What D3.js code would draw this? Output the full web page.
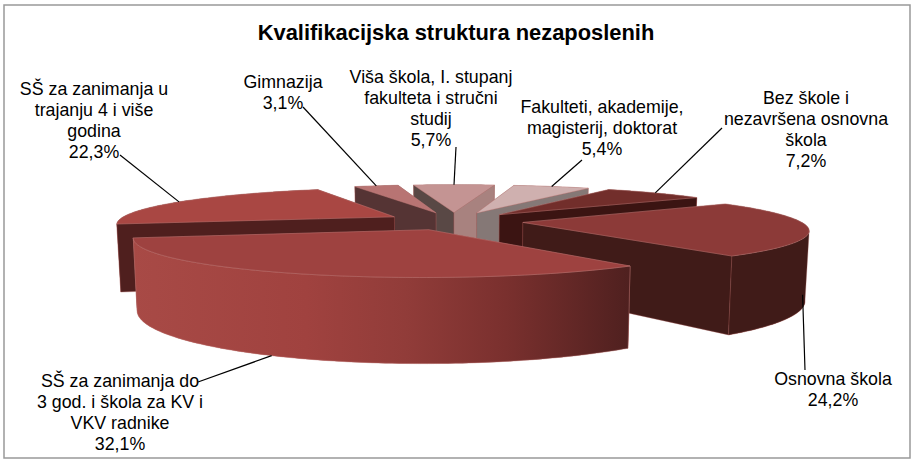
<!DOCTYPE html>
<html>
<head>
<meta charset="utf-8">
<script src="https://d3js.org/d3.v7.min.js"></script>
<style>
	html, body { margin: 0; padding: 0; background: #fff; }
	text { font-family: "Liberation Sans", Arial, sans-serif; fill: #000; }
</style>
</head>
<body>
<div class="container"></div>
<script>
// data, clockwise from the slice that starts at the upper right
var categories = [
	["Bez škole i", "nezavršena osnovna", "škola"],
	["Osnovna škola"],
	["SŠ za zanimanja do", "3 god. i škola za KV i", "VKV radnike"],
	["SŠ za zanimanja u", "trajanju 4 i više", "godina"],
	["Gimnazija"],
	["Viša škola, I. stupanj", "fakulteta i stručni", "studij"],
	["Fakulteti, akademije,", "magisterij, doktorat"]
];
var values = [7.2, 24.2, 32.1, 22.3, 3.1, 5.7, 5.4];
var title = "Kvalifikacijska struktura nezaposlenih";

// look of each slice: top, wall at start angle, wall at end angle, outer wall
var topColors = ["#722e2b", "#8c3a38", "#9e4240", "#a94743", "#b87473", "#c49493", "#cfb0af"];
var startWallColors = ["#3b1412", "#401b18", "#7a302e", "#4f1f1e", "#553434", "#594845", "#857876"];
var endWallColors = ["#3b1412", "#401b18", "#7a302e", "#4f1f1e", "#553434", "#a8827f", "#857876"];
var outerColors = ["#3b1412", "#401b18", "url(#frontWall)", "#4f1f1e", "#553434", "#594845", "#857876"];
// back to front
var drawOrder = [5, 4, 6, 0, 3, 1, 2];

// label position (centre x, first line centre y) and where its leader line starts
var labelX = [806, 833, 120, 94, 283, 431, 602];
var labelY = [98, 379, 381, 89, 82, 77, 107];
var leaderX = [722, 805, 198, 120, 303, 456, 582];
var leaderY = [128, 370, 382, 155, 107, 147, 160];
var leaderAngle = [0.5, 0.46, 0.55, 0.5, 0.5, 0.5, 0.5]; // along the slice arc
var lineHeight = 20.8;

var w = 916, h = 462;
var cx = 454, cy = 221;
var rx = 277, ry = 35.6, depth = 67, persp = 0.18, explode = 0.25, taper = 0.012;

function project(u, v, z) {
	var d = 1 - persp * v;
	var lean = 1 - taper * z / depth;
	return [cx + lean * rx * u / d, cy + (ry * v + z) / d];
}

// point on a slice: r is the distance from its apex, a the angle clockwise from the back
function slicePoint(s, a, r, z) {
	var mid = (s.startAngle + s.endAngle) / 2;
	return project(explode * Math.sin(mid) + r * Math.sin(a), -explode * Math.cos(mid) - r * Math.cos(a), z);
}

function arcAngles(a0, a1) {
	var n = Math.max(2, Math.ceil((a1 - a0) / 0.02));
	return d3.range(n + 1).map(function(i) { return a0 + (a1 - a0) * i / n; });
}

var line = d3.line().curve(d3.curveLinear);
var pie = d3.pie().sort(null).startAngle(29.7 * Math.PI / 180).endAngle((29.7 + 360) * Math.PI / 180);
var slices = pie(values);

function makeStage(w, h) {
	var stage = d3.select(".container")
	.insert("svg")
	.attr("width", w)
	.attr("height", h)
	.style("display", "block");
	return stage;
}

function drawWall(stage, s, a, color) {
	stage.insert("path")
	.attr("d", line([slicePoint(s, a, 0, 0), slicePoint(s, a, 1, 0), slicePoint(s, a, 1, depth), slicePoint(s, a, 0, depth)]) + "Z")
	.style("fill", color)
	.style("stroke", "#a85a56")
	.style("stroke-opacity", 0.5)
	.style("stroke-width", "0.7px");
}

function drawOuter(stage, s, a0, a1, color) {
	if (a1 <= a0) return;
	var angles = arcAngles(a0, a1);
	var upper = angles.map(function(a) { return slicePoint(s, a, 1, 0); });
	var lower = angles.map(function(a) { return slicePoint(s, a, 1, depth); }).reverse();
	stage.insert("path")
	.attr("d", line(upper.concat(lower)) + "Z")
	.style("fill", color)
	.style("stroke", color == "url(#frontWall)" ? "#c98a86" : "#a85a56")
	.style("stroke-opacity", 0.5)
	.style("stroke-width", "0.6px");
}

// the visible part of the rim: from its rightmost point round the front to its leftmost
function frontRange(s) {
	var a0 = s.startAngle, a1 = s.endAngle;
	var f0 = a0, f1 = a1;
	if (a0 < Math.PI) {
		var right = arcAngles(a0, Math.min(a1, Math.PI));
		f0 = right[d3.greatestIndex(right, function(a) { return slicePoint(s, a, 1, 0)[0]; })];
	}
	if (a1 > Math.PI) {
		var left = arcAngles(Math.max(a0, Math.PI), a1);
		f1 = left[d3.leastIndex(left, function(a) { return slicePoint(s, a, 1, 0)[0]; })];
	}
	return [f0, f1];
}

function drawSlice(stage, i) {
	var s = slices[i];
	var a0 = s.startAngle, a1 = s.endAngle;
	var front = frontRange(s);

	drawOuter(stage, s, a0, a1, outerColors[i]);
	// the wall that reaches further back goes first
	var startFirst = slicePoint(s, a0, 1, 0)[1] <= slicePoint(s, a1, 1, 0)[1];
	if (startFirst) {
		drawWall(stage, s, a0, startWallColors[i]);
		drawWall(stage, s, a1, endWallColors[i]);
	} else {
		drawWall(stage, s, a1, endWallColors[i]);
		drawWall(stage, s, a0, startWallColors[i]);
	}
	drawOuter(stage, s, front[0], front[1], outerColors[i]);

	var rim = arcAngles(a0, a1).map(function(a) { return slicePoint(s, a, 1, 0); });
	stage.insert("path")
	.attr("d", line([slicePoint(s, a0, 0, 0)].concat(rim)) + "Z")
	.style("fill", topColors[i])
	.style("stroke", "#c98a86")
	.style("stroke-opacity", 0.6)
	.style("stroke-width", "0.6px");
}

function drawLabel(stage, i) {
	var s = slices[i];
	var a = s.startAngle + (s.endAngle - s.startAngle) * leaderAngle[i];
	var end = slicePoint(s, a, 1, i == 1 || i == 2 ? depth : 0);
	stage.insert("line")
	.attr("x1", leaderX[i]).attr("y1", leaderY[i])
	.attr("x2", end[0]).attr("y2", end[1])
	.style("stroke", "#000")
	.style("stroke-width", "1.2px");

	var rows = categories[i].concat([String(values[i]).replace(".", ",") + "%"]);
	stage.selectAll(null)
	.data(rows)
	.enter()
	.append("text")
	.attr("x", labelX[i])
	.attr("y", function(d, k) { return labelY[i] + k * lineHeight; })
	.attr("dy", "0.35em")
	.attr("text-anchor", "middle")
	.style("font-size", "17.8px")
	.text(function(d) { return d; });
}

var mystage = makeStage(w, h);

var grad = mystage.insert("defs").insert("linearGradient")
	.attr("id", "frontWall")
	.attr("gradientUnits", "userSpaceOnUse")
	.attr("x1", 132).attr("x2", 630).attr("y1", 0).attr("y2", 0);
grad.selectAll("stop")
	.data([[0, "#a84a46"], [0.35, "#a0423f"], [0.55, "#913c39"], [0.75, "#7a302e"], [1, "#4f201f"]])
	.enter()
	.append("stop")
	.attr("offset", function(d) { return d[0]; })
	.attr("stop-color", function(d) { return d[1]; });

mystage.insert("rect")
	.attr("x", 4).attr("y", 5).attr("width", 906).attr("height", 453)
	.style("fill", "#fff")
	.style("stroke", "#999")
	.style("stroke-width", "1.5px");

mystage.insert("text")
	.attr("x", 456).attr("y", 40)
	.attr("text-anchor", "middle")
	.style("font-size", "21.9px")
	.style("font-weight", "bold")
	.text(title);

drawOrder.forEach(function(i) { drawSlice(mystage, i); });
d3.range(values.length).forEach(function(i) { drawLabel(mystage, i); });
</script>
</body>
</html>
